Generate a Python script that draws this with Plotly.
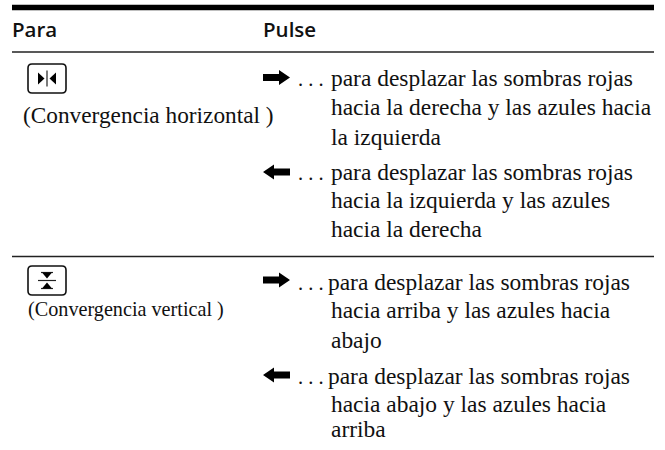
import plotly.graph_objects as go

W, H = 665, 450
SERIF = "Liberation Serif"
SANS = "Open Sans"

# Text content: (text, left x, centre y, size, family)
headers = [("Para", 10.5, 29, 20.5, SANS), ("Pulse", 261.5, 29, 20.5, SANS)]
labels = [("(Convergencia horizontal )", 21.5, 115, 23.3, SERIF),
          ("(Convergencia vertical )", 26.5, 309, 20.2, SERIF)]
dots = [(". . .", 296.5, 79), (". . .", 296.5, 173), (". . .", 296.5, 283), (". . .", 296.5, 377)]
body_lines = [
    ("para desplazar las sombras rojas", 330, 78),
    ("hacia la derecha y las azules hacia", 330, 107),
    ("la izquierda", 330, 137),
    ("para desplazar las sombras rojas", 330, 172),
    ("hacia la izquierda y las azules", 330, 200),
    ("hacia la derecha", 330, 229),
    ("para desplazar las sombras rojas", 327, 282),
    ("hacia arriba y las azules hacia", 330, 310),
    ("abajo", 330, 340),
    ("para desplazar las sombras rojas", 327, 376),
    ("hacia abajo y las azules hacia", 330, 404),
    ("arriba", 330, 429),
]
BODY_SIZE = 23.45
DOT_SIZE = 20.5

# Horizontal rules: (y, thickness)
rules = [(7.5, 5.5), (52, 1.6), (256.5, 1.6)]
RULE_X = (12, 654)

# Arrow glyphs: (x0, y, direction)
arrows = [(263, 77.5, 1), (263, 172, -1), (263, 280, 1), (263, 375, -1)]
# Button icons: (x0, y0, x1, y1, kind)
buttons = [(28, 64, 66, 93, "h"), (28, 266, 66, 295, "v")]

fig = go.Figure()
fig.add_trace(go.Scatter(x=[0, W], y=[0, H], mode="markers", marker=dict(opacity=0),
                         hoverinfo="skip", showlegend=False))

ann = []
for t, x, y, s, f in headers + labels:
    weight = 600 if f == SANS else 400
    ann.append(dict(text=t, x=x, y=y, font=dict(size=s, family=f, color="#111", weight=weight)))
for t, x, y in body_lines:
    ann.append(dict(text=t, x=x, y=y, font=dict(size=BODY_SIZE, family=SERIF, color="#111")))
for t, x, y in dots:
    ann.append(dict(text=t, x=x, y=y, font=dict(size=DOT_SIZE, family=SERIF, color="#111")))
for a in ann:
    a.update(xref="x", yref="y", xanchor="left", yanchor="middle", showarrow=False,
             xshift=0, borderpad=0, align="left")

shapes = []
for y, t in rules:
    shapes.append(dict(type="line", x0=RULE_X[0], x1=RULE_X[1], y0=y, y1=y,
                       line=dict(color="#000" if t > 2 else "#222", width=t), layer="above"))


def tri(pts):
    return "M" + " L".join(f"{a},{b}" for a, b in pts) + " Z"


for x0, y, d in arrows:
    L = 27
    if d > 0:
        pts = [(x0, y - 3.5), (x0 + 16, y - 3.5), (x0 + 16, y - 7.5), (x0 + L, y),
               (x0 + 16, y + 7.5), (x0 + 16, y + 3.5), (x0, y + 3.5)]
    else:
        pts = [(x0 + L, y - 3.5), (x0 + 11, y - 3.5), (x0 + 11, y - 7.5), (x0, y),
               (x0 + 11, y + 7.5), (x0 + 11, y + 3.5), (x0 + L, y + 3.5)]
    shapes.append(dict(type="path", path=tri(pts), fillcolor="#000", line=dict(width=0)))

for x0, y0, x1, y1, kind in buttons:
    r = 4
    p = (f"M{x0+r},{y0} L{x1-r},{y0} Q{x1},{y0} {x1},{y0+r} L{x1},{y1-r} Q{x1},{y1} {x1-r},{y1} "
         f"L{x0+r},{y1} Q{x0},{y1} {x0},{y1-r} L{x0},{y0+r} Q{x0},{y0} {x0+r},{y0} Z")
    shapes.append(dict(type="path", path=p, line=dict(color="#111", width=1.6)))
    cx, cy = (x0 + x1) / 2, (y0 + y1) / 2
    if kind == "h":
        shapes.append(dict(type="line", x0=cx, x1=cx, y0=cy - 8, y1=cy + 8, line=dict(color="#222", width=1.2)))
        shapes.append(dict(type="path", path=tri([(cx - 9, cy - 6), (cx - 2.5, cy), (cx - 9, cy + 6)]),
                           fillcolor="#000", line=dict(width=0)))
        shapes.append(dict(type="path", path=tri([(cx + 9, cy - 6), (cx + 2.5, cy), (cx + 9, cy + 6)]),
                           fillcolor="#000", line=dict(width=0)))
    else:
        shapes.append(dict(type="line", x0=cx - 9, x1=cx + 9, y0=cy, y1=cy, line=dict(color="#222", width=1.2)))
        shapes.append(dict(type="line", x0=cx - 6, x1=cx + 6, y0=cy - 8, y1=cy - 8, line=dict(color="#222", width=1.2)))
        shapes.append(dict(type="line", x0=cx - 6, x1=cx + 6, y0=cy + 8, y1=cy + 8, line=dict(color="#222", width=1.2)))
        shapes.append(dict(type="path", path=tri([(cx - 5, cy - 8), (cx + 5, cy - 8), (cx, cy - 2)]),
                           fillcolor="#000", line=dict(width=0)))
        shapes.append(dict(type="path", path=tri([(cx - 5, cy + 8), (cx + 5, cy + 8), (cx, cy + 2)]),
                           fillcolor="#000", line=dict(width=0)))

fig.update_layout(
    width=W, height=H, margin=dict(l=0, r=0, t=0, b=0),
    paper_bgcolor="white", plot_bgcolor="white", showlegend=False,
    xaxis=dict(range=[0, W], visible=False, fixedrange=True),
    yaxis=dict(range=[H, 0], visible=False, fixedrange=True),
    annotations=ann, shapes=shapes,
)
fig.write_html("out.html", config=dict(displayModeBar=False),
               post_script="document.body.style.margin='0';document.body.style.overflow='hidden';")
